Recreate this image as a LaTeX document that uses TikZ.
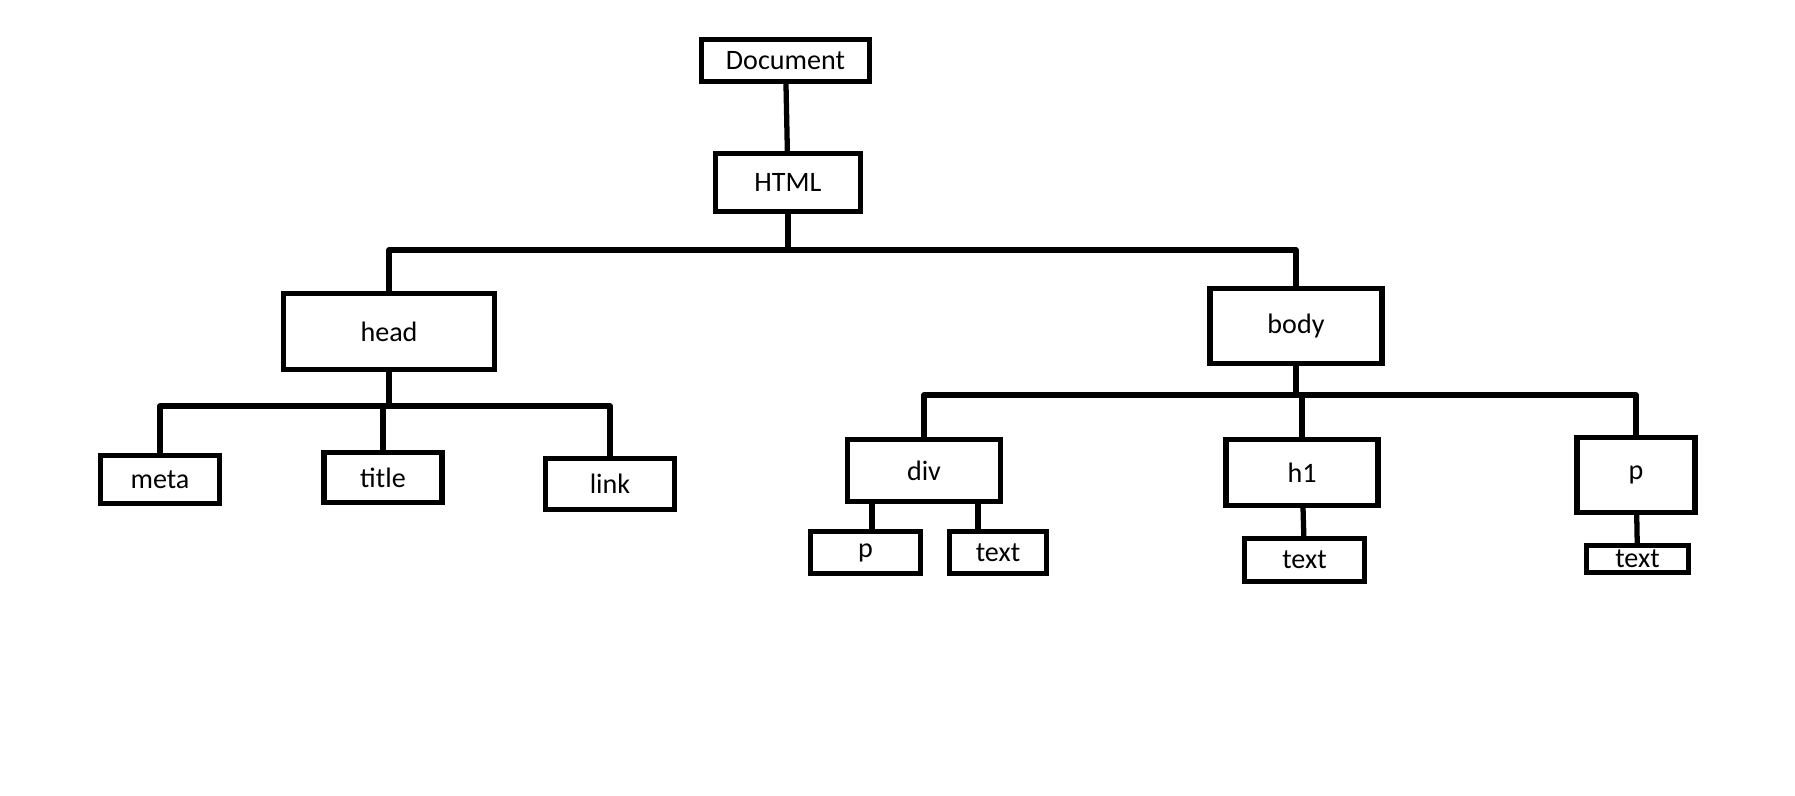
\documentclass[tikz,border=0pt]{standalone}
\usepackage{fontspec}
\setmainfont{Carlito}
\tikzset{box/.style={draw,inner sep=0pt,font=\fontsize{16}{19}\selectfont}}
\begin{document}
\begin{tikzpicture}[x=0.02cm,y=-0.02cm,line width=3pt]
\useasboundingbox (0,0) rectangle (1795,795);
% top of the tree
\node[box,minimum width=3.36cm,minimum height=0.84cm] (doc) at (785.5,60.5) {Document};
\node[box,minimum width=2.90cm,minimum height=1.16cm] (html) at (788,182.5) {HTML};
\node[box,minimum width=4.22cm,minimum height=1.52cm] (head) at (389,331.5) {head};
\node[box,minimum width=3.44cm,minimum height=1.50cm] (body) at (1296,326) {body};
% children of head
\node[box,minimum width=2.38cm,minimum height=0.96cm] (meta) at (160,479.5) {meta};
\node[box,minimum width=2.36cm,minimum height=1.00cm] (title) at (383,477.5) {title};
\node[box,minimum width=2.58cm,minimum height=1.02cm] (link) at (610,484) {link};
% children of body
\node[box,minimum width=3.06cm,minimum height=1.24cm] (div) at (924,470.5) {div};
\node[box,minimum width=3.04cm,minimum height=1.32cm] (h1) at (1302,472.5) {h1};
\node[box,minimum width=2.36cm,minimum height=1.50cm] (pbox) at (1636,475) {p};
\node[box,minimum width=2.20cm,minimum height=0.84cm] (divp) at (865.5,552.5) {p};
\node[box,minimum width=1.94cm,minimum height=0.84cm] (divtext) at (998,552.5) {text};
\node[box,minimum width=2.40cm,minimum height=0.86cm] (h1text) at (1304.5,560) {text};
\node[box,minimum width=2.04cm,minimum height=0.54cm] (ptext) at (1637.5,559) {text};
% connectors
\coordinate (htmlbus) at (788,250);
\coordinate (headbus) at (389,406);
\coordinate (bodybus) at (1296,395);
\draw (doc) -- (html);
\draw (html) -- (htmlbus);
\draw[line join=round] (head) |- (htmlbus) -| (body);
\draw (head) -- (headbus);
\draw[line join=round] (meta) |- (headbus) -| (link);
\draw (title) -- (title |- headbus);
\draw (body) -- (bodybus);
\draw[line join=round] (div) |- (bodybus) -| (pbox);
\draw (h1) -- (h1 |- bodybus);
\draw (872,0 |- div.south) -- (872,0 |- divp.north);
\draw (978,0 |- div.south) -- (978,0 |- divtext.north);
\draw (h1) -- (h1text);
\draw (pbox) -- (ptext);
\end{tikzpicture}
\end{document}
